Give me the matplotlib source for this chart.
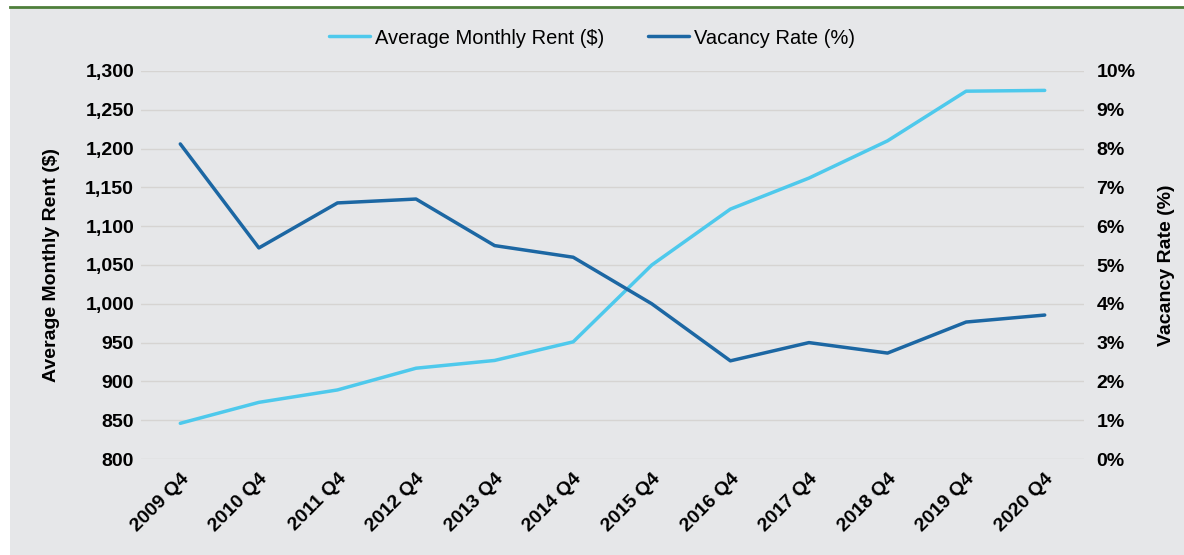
import matplotlib.pyplot as plt
from matplotlib.patches import Rectangle
from matplotlib.ticker import FuncFormatter

plt.rcParams['font.family'] = ['Liberation Sans', 'DejaVu Sans']

quarters = ['2009 Q4', '2010 Q4', '2011 Q4', '2012 Q4', '2013 Q4', '2014 Q4',
            '2015 Q4', '2016 Q4', '2017 Q4', '2018 Q4', '2019 Q4', '2020 Q4']
rent = [846, 873, 889, 917, 927, 951, 1050, 1122, 1162, 1210, 1274, 1275]
vacancy = [8.12, 5.44, 6.6, 6.7, 5.5, 5.2, 4.0, 2.53, 3.0, 2.73, 3.53, 3.71]

light_blue = '#4ec9ec'
dark_blue = '#1c67a3'
bg = '#e6e7e9'

fig = plt.figure(figsize=(11.84, 5.55), dpi=100)
fig.patches.append(Rectangle((10 / 1184, 0), 1, 1 - 7 / 555, transform=fig.transFigure,
                             facecolor=bg, edgecolor='none', zorder=-10))
fig.add_artist(plt.Line2D([10 / 1184, 1], [1 - 7 / 555, 1 - 7 / 555], transform=fig.transFigure,
                          color='#4e7f3a', lw=2, zorder=-5))

ax = fig.add_axes([141 / 1184, 1 - 459 / 555, (1084 - 141) / 1184, (459 - 71) / 555])
ax.set_facecolor('none')
x = list(range(len(quarters)))
l1, = ax.plot(x, rent, color=light_blue, lw=2.5, solid_capstyle='round', zorder=3)
ax.set_ylim(800, 1300)
ax.set_yticks(range(800, 1301, 50))
ax.yaxis.set_major_formatter(FuncFormatter(lambda v, p: f'{int(v):,}'))
ax.set_xlim(-0.5, 11.5)
ax.set_xticks(x)
ax.set_xticklabels(quarters, rotation=45, ha='right', rotation_mode='anchor')
ax.grid(axis='y', color='#d6d4d2', lw=1)
ax.set_axisbelow(True)
for s in ax.spines.values():
    s.set_visible(False)
ax.tick_params(axis='y', length=0, labelsize=14, pad=5)
ax.tick_params(axis='x', length=0, labelsize=14, pad=8)
for lab in ax.get_xticklabels() + ax.get_yticklabels():
    lab.set_fontweight('bold')
ax.set_ylabel('Average Monthly Rent ($)', fontsize=14, fontweight='bold', labelpad=18)

ax2 = ax.twinx()
l2, = ax2.plot(x, vacancy, color=dark_blue, lw=2.5, solid_capstyle='round', zorder=3)
ax2.set_ylim(0, 10)
ax2.set_yticks(range(0, 11))
ax2.yaxis.set_major_formatter(FuncFormatter(lambda v, p: f'{int(v)}%'))
for s in ax2.spines.values():
    s.set_visible(False)
ax2.tick_params(length=0, labelsize=14, pad=9)
for lab in ax2.get_yticklabels():
    lab.set_fontweight('bold')
ax2.set_ylabel('Vacancy Rate (%)', fontsize=14, fontweight='bold', labelpad=16)

fig.legend([l1, l2], ['Average Monthly Rent ($)', 'Vacancy Rate (%)'], loc='center',
           bbox_to_anchor=(0.5, 1 - 38 / 555), ncol=2, frameon=False, fontsize=14.5,
           handlelength=2.0, columnspacing=2.2, handletextpad=0.25)

fig.savefig('out.png', dpi=100)
